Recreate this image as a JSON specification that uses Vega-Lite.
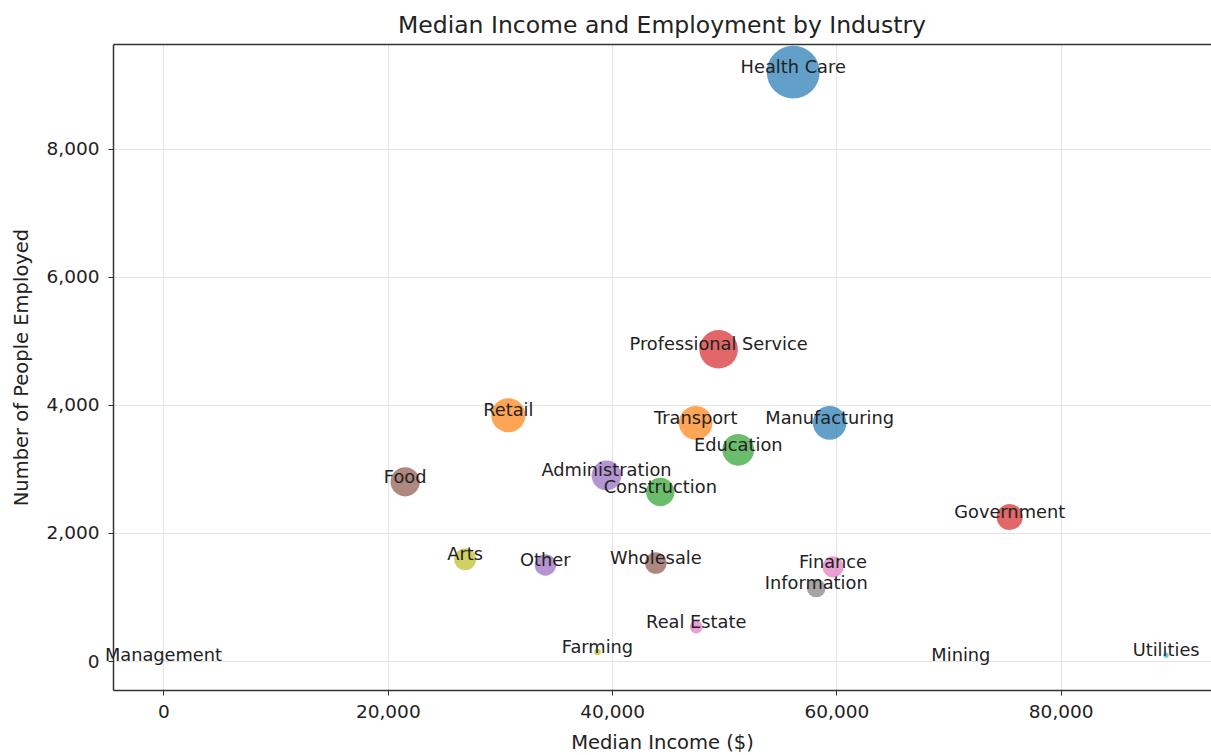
{
  "$schema": "https://vega.github.io/schema/vega-lite/v6.json",
  "autosize": "none",
  "padding": {"left": 113, "top": 44, "right": 0, "bottom": 65},
  "width": 1098,
  "height": 646,
  "background": "white",
  "config": {
    "view": {"stroke": null},
    "font": "DejaVu Sans",
    "axis": {
      "labelFont": "DejaVu Sans",
      "titleFont": "DejaVu Sans",
      "labelFontSize": 18.5,
      "titleFontSize": 19.5,
      "labelColor": "#222",
      "titleColor": "#222",
      "titleFontWeight": "normal",
      "domainColor": "#333",
      "domainWidth": 1.5,
      "tickColor": "#333",
      "tickSize": 5,
      "tickWidth": 1,
      "gridColor": "#e4e4e4",
      "gridWidth": 1
    },
    "title": {"font": "DejaVu Sans", "fontSize": 23.5, "fontWeight": "normal", "color": "#222"}
  },
  "title": {"text": "Median Income and Employment by Industry", "offset": 7},
  "data": {
    "values": [
      {"Industry": "Health Care", "Income": 56150, "Employed": 9200},
      {"Industry": "Retail", "Income": 30750, "Employed": 3840},
      {"Industry": "Education", "Income": 51250, "Employed": 3300},
      {"Industry": "Professional Service", "Income": 49500, "Employed": 4870},
      {"Industry": "Administration", "Income": 39500, "Employed": 2900},
      {"Industry": "Food", "Income": 21550, "Employed": 2800},
      {"Industry": "Finance", "Income": 59700, "Employed": 1470},
      {"Industry": "Information", "Income": 58200, "Employed": 1140},
      {"Industry": "Arts", "Income": 26900, "Employed": 1590},
      {"Industry": "Management", "Income": 0, "Employed": 15},
      {"Industry": "Manufacturing", "Income": 59400, "Employed": 3720},
      {"Industry": "Transport", "Income": 47450, "Employed": 3720},
      {"Industry": "Construction", "Income": 44300, "Employed": 2640},
      {"Industry": "Government", "Income": 75450, "Employed": 2250},
      {"Industry": "Other", "Income": 34050, "Employed": 1500},
      {"Industry": "Wholesale", "Income": 43900, "Employed": 1530},
      {"Industry": "Real Estate", "Income": 47500, "Employed": 530},
      {"Industry": "Mining", "Income": 71100, "Employed": 20},
      {"Industry": "Farming", "Income": 38700, "Employed": 140},
      {"Industry": "Utilities", "Income": 89400, "Employed": 90}
    ]
  },
  "encoding": {
    "x": {
      "field": "Income", "type": "quantitative",
      "scale": {"domain": [-4500, 93400], "nice": false, "zero": false}
    },
    "y": {
      "field": "Employed", "type": "quantitative",
      "scale": {"domain": [-453, 9640], "nice": false, "zero": false}
    }
  },
  "layer": [
    {
      "mark": {"type": "circle", "opacity": 0.7, "clip": true},
      "encoding": {
        "x": {"field": "Income", "type": "quantitative",
          "axis": {"title": "Median Income ($)", "values": [0, 20000, 40000, 60000, 80000], "format": ",.0f", "grid": true, "labelPadding": 7, "titlePadding": 13}},
        "y": {"field": "Employed", "type": "quantitative",
          "axis": {"title": "Number of People Employed", "values": [0, 2000, 4000, 6000, 8000], "format": ",.0f", "grid": true, "labelPadding": 9, "titlePadding": 15}},
        "size": {
          "field": "Employed", "type": "quantitative", "legend": null,
          "scale": {"domain": [0, 9200], "range": [0, 2800], "zero": true}
        },
        "color": {
          "field": "Industry", "type": "nominal", "legend": null,
          "scale": {
            "domain": ["Health Care", "Retail", "Education", "Professional Service", "Administration", "Food", "Finance", "Information", "Arts", "Management", "Manufacturing", "Transport", "Construction", "Government", "Other", "Wholesale", "Real Estate", "Mining", "Farming", "Utilities"],
            "range": ["#1f77b4", "#ff7f0e", "#2ca02c", "#d62728", "#9467bd", "#8c564b", "#e377c2", "#7f7f7f", "#bcbd22", "#17becf", "#1f77b4", "#ff7f0e", "#2ca02c", "#d62728", "#9467bd", "#8c564b", "#e377c2", "#7f7f7f", "#bcbd22", "#17becf"]
          }
        }
      }
    },
    {
      "mark": {"type": "text", "align": "center", "baseline": "middle", "dy": -4, "fontSize": 17.8, "color": "#222"},
      "encoding": {
        "x": {"field": "Income", "type": "quantitative", "axis": {"orient": "top", "labels": false, "ticks": false, "grid": false, "title": null, "domain": true}},
        "text": {"field": "Industry", "type": "nominal"}
      }
    }
  ],
  "resolve": {"axis": {"x": "independent"}}
}
